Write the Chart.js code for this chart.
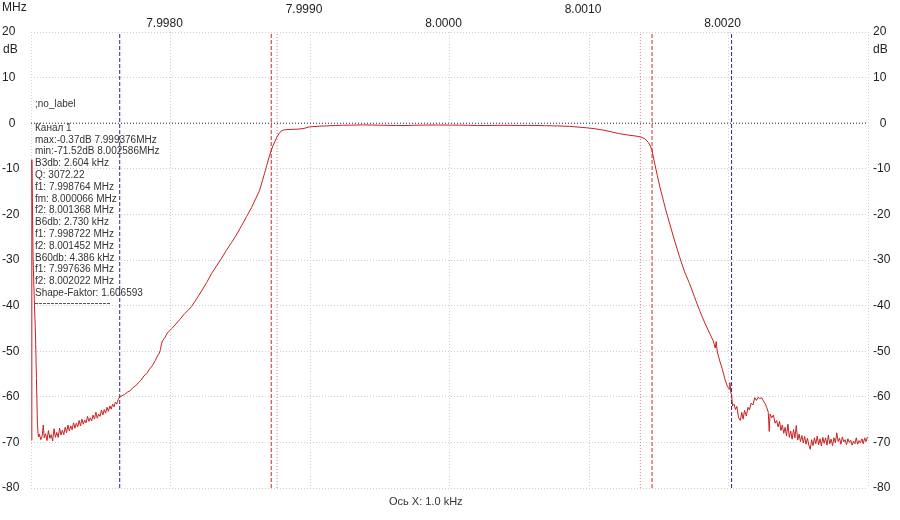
<!DOCTYPE html>
<html>
<head>
<meta charset="utf-8">
<script src="https://cdn.jsdelivr.net/npm/chart.js@4/dist/chart.umd.min.js"></script>
<style>
  html, body { margin: 0; padding: 0; background: #ffffff; }
  #wrap { width: 900px; height: 520px; }
</style>
</head>
<body>
<div id="wrap"><canvas id="c" width="900" height="520"></canvas></div>
<script>
// ---------------- DATA ----------------
const centerMHz = 8.0;                       // x axis values are offsets from this, in kHz
const xTicksKHz = [-3, -2, -1, 0, 1, 2, 3];
const yTicksDb = [-80, -70, -60, -50, -40, -30, -20, -10, 0, 10, 20];

// sweep start artefact + lower noise floor
const floorLowKHz = [-2.996,-2.994,-2.985,-2.975,-2.968,-2.961,-2.954,-2.947,-2.940,-2.930,-2.920,-2.912,-2.905,-2.895,-2.885,-2.875,-2.865,-2.855,-2.845,-2.835,-2.825,-2.815,-2.805,-2.795,-2.785,-2.775,-2.765,-2.755,-2.745,-2.735,-2.725,-2.715,-2.705,-2.695,-2.685,-2.675,-2.665,-2.655,-2.645,-2.635,-2.625,-2.615,-2.605,-2.595,-2.585,-2.575,-2.565,-2.555,-2.545,-2.535,-2.525,-2.515,-2.505,-2.495,-2.485,-2.475,-2.465,-2.455,-2.445,-2.435,-2.425,-2.415,-2.405,-2.395,-2.385,-2.375,-2.364,-2.350];
const floorLowDb  = [-69.5,-8.0,-30.0,-40.0,-46.0,-56.0,-66.0,-68.8,-68.2,-69.4,-68.6,-66.2,-69.0,-68.1,-69.6,-67.4,-69.1,-68.3,-69.7,-67.0,-68.9,-67.8,-68.9,-66.9,-68.4,-67.3,-68.3,-66.7,-67.9,-66.2,-67.5,-66.4,-67.2,-65.7,-66.9,-65.8,-66.6,-65.2,-66.4,-64.9,-66.0,-65.1,-65.7,-64.3,-65.4,-64.6,-65.3,-64.0,-64.9,-63.4,-64.7,-63.8,-64.3,-62.9,-64.0,-62.8,-63.6,-62.3,-63.2,-62.0,-62.7,-61.6,-62.2,-61.2,-61.6,-60.6,-60.0,-59.8];

// lower skirt
const skirtLowKHz = [-2.330,-2.310,-2.290,-2.270,-2.250,-2.230,-2.210,-2.190,-2.170,-2.150,-2.130,-2.110,-2.093,-2.080,-2.072,-2.065,-2.057,-2.040,-2.022,-1.990,-1.960,-1.935,-1.900,-1.870,-1.849,-1.810,-1.778,-1.740,-1.706,-1.670,-1.634,-1.600,-1.563,-1.530,-1.491,-1.455,-1.419,-1.390,-1.362,-1.340,-1.326,-1.310,-1.295,-1.278,-1.265,-1.250,-1.236,-1.220,-1.205,-1.190];
const skirtLowDb  = [-59.5,-59.0,-58.7,-58.0,-57.6,-56.9,-56.3,-55.4,-54.9,-53.9,-53.2,-52.1,-51.0,-50.4,-49.6,-48.4,-47.7,-47.0,-46.0,-45.0,-44.0,-43.1,-41.8,-40.9,-40.2,-38.4,-36.8,-34.9,-33.0,-31.3,-29.6,-27.9,-26.2,-24.6,-22.5,-20.5,-18.5,-16.6,-14.8,-12.5,-11.0,-9.3,-7.6,-6.0,-4.9,-3.9,-3.0,-2.2,-1.7,-1.5];

// passband
const passKHz = [-1.170,-1.130,-1.090,-1.050,-1.010,-0.980,-0.930,-0.880,-0.820,-0.760,-0.700,-0.624,-0.560,-0.500,-0.440,-0.380,-0.320,-0.260,-0.200,-0.140,-0.080,0.000,0.066,0.130,0.200,0.260,0.320,0.380,0.440,0.500,0.560,0.620,0.680,0.740,0.800,0.860,0.920,0.980,1.040,1.100,1.160,1.220,1.280,1.330,1.368,1.400,1.425,1.440,1.452];
const passDb  = [-1.4,-1.35,-1.3,-1.2,-0.85,-0.75,-0.65,-0.6,-0.5,-0.45,-0.42,-0.37,-0.4,-0.43,-0.47,-0.52,-0.5,-0.45,-0.42,-0.4,-0.4,-0.41,-0.42,-0.45,-0.5,-0.52,-0.48,-0.46,-0.47,-0.5,-0.48,-0.5,-0.55,-0.58,-0.62,-0.7,-0.85,-1.0,-1.2,-1.5,-1.9,-2.3,-2.6,-2.8,-3.0,-3.4,-4.2,-5.0,-6.0];

// upper skirt
const skirtHighKHz = [1.470,1.490,1.510,1.527,1.550,1.577,1.610,1.649,1.685,1.720,1.755,1.792,1.830,1.864,1.890,1.905,1.912,1.920,1.940,1.957,1.975,1.993,2.005,2.010,2.015,2.022,2.029];
const skirtHighDb  = [-8.7,-11.5,-14.2,-16.2,-19.0,-21.9,-25.4,-29.3,-32.6,-35.1,-38.0,-41.0,-43.8,-46.0,-47.7,-49.3,-47.9,-50.2,-52.4,-54.1,-56.2,-57.8,-58.3,-56.9,-58.9,-59.6,-62.0];

// upper noise floor
const floorHighKHz = [2.040,2.050,2.060,2.072,2.085,2.095,2.105,2.115,2.128,2.140,2.150,2.162,2.175,2.188,2.200,2.212,2.225,2.238,2.250,2.262,2.275,2.285,2.292,2.298,2.310,2.322,2.334,2.345,2.356,2.366,2.376,2.386,2.396,2.406,2.416,2.426,2.436,2.446,2.456,2.466,2.476,2.486,2.496,2.506,2.516,2.526,2.536,2.546,2.556,2.566,2.576,2.586,2.596,2.606,2.616,2.626,2.636,2.646,2.656,2.666,2.676,2.686,2.696,2.706,2.716,2.726,2.736,2.746,2.756,2.766,2.776,2.786,2.796,2.806,2.816,2.826,2.836,2.846,2.856,2.866,2.876,2.886,2.896,2.906,2.916,2.926,2.936,2.946,2.956,2.966,2.976,2.986,2.996];
const floorHighDb  = [-61.6,-62.8,-62.1,-64.6,-65.2,-63.4,-64.9,-63.0,-64.2,-62.3,-62.9,-61.4,-61.8,-60.2,-60.8,-60.1,-60.4,-60.2,-60.9,-61.5,-62.4,-63.4,-67.6,-63.8,-64.6,-64.0,-65.8,-65.2,-66.6,-65.4,-67.4,-66.2,-68.0,-66.7,-68.6,-66.0,-68.9,-67.5,-69.3,-67.2,-69.0,-66.3,-69.5,-68.2,-69.8,-68.5,-70.1,-68.7,-70.4,-69.1,-70.6,-71.5,-69.4,-70.7,-69.0,-70.3,-68.6,-70.5,-69.2,-70.8,-68.9,-70.2,-69.0,-70.6,-68.4,-70.3,-69.3,-70.7,-69.0,-70.1,-67.9,-69.8,-69.1,-70.4,-68.8,-69.9,-69.4,-70.5,-69.2,-70.0,-69.5,-70.6,-69.7,-70.3,-69.0,-70.4,-69.6,-70.1,-69.2,-70.3,-69.0,-69.8,-68.8];

// marker frequencies (kHz offsets)
const markerB3KHz  = [-1.236, 1.368];
const markerB6KHz  = [-1.278, 1.452];
const markerB60KHz = [-2.364, 2.022];
const refLevelDb = 0;

const infoTitle = ';no_label';
const infoLines = [
  'Канал 1',
  'max:-0.37dB 7.999376MHz',
  'min:-71.52dB 8.002586MHz',
  'B3db: 2.604 kHz',
  'Q: 3072.22',
  'f1: 7.998764 MHz',
  'fm: 8.000066 MHz',
  'f2: 8.001368 MHz',
  'B6db: 2.730 kHz',
  'f1: 7.998722 MHz',
  'f2: 8.001452 MHz',
  'B60db: 4.386 kHz',
  'f1: 7.997636 MHz',
  'f2: 8.002022 MHz',
  'Shape-Faktor: 1.606593'
];
const xAxisNote = 'Ось X: 1.0 kHz';

// ---------------- BUILD ----------------
function pts(xs, ys) { return xs.map((x, i) => ({ x: x, y: ys[i] })); }
const trace = [].concat(
  pts(floorLowKHz, floorLowDb),
  pts(skirtLowKHz, skirtLowDb),
  pts(passKHz, passDb),
  pts(skirtHighKHz, skirtHighDb),
  pts(floorHighKHz, floorHighDb)
);

const Y_MIN = yTicksDb[0], Y_MAX = yTicksDb[yTicksDb.length - 1];
function vline(k, color, dash, order) {
  return { data: [{ x: k, y: Y_MIN }, { x: k, y: Y_MAX }], borderColor: color, borderWidth: 1,
           borderDash: dash, pointRadius: 0, fill: false, order: order };
}
const datasets = [
  { data: trace, borderColor: '#c82020', borderWidth: 1, pointRadius: 0, fill: false, tension: 0, order: 0 },
  { data: [{ x: xTicksKHz[0], y: refLevelDb }, { x: xTicksKHz[xTicksKHz.length - 1], y: refLevelDb }],
    borderColor: '#2a2a55', borderWidth: 1, borderDash: [1, 2], pointRadius: 0, fill: false, order: 1 }
];
markerB3KHz.forEach(k => datasets.push(vline(k, '#e07a7a', [1, 2], 2)));
markerB6KHz.forEach(k => datasets.push(vline(k, '#d02828', [4, 2], 2)));
markerB60KHz.forEach(k => datasets.push(vline(k, '#2a2a78', [4, 2], 2)));

const FONT = "'Liberation Sans', Arial, sans-serif";
const gridCfg = { color: '#cfcfcf', lineWidth: 1, drawTicks: false, borderDash: [1, 2] };

const textPlugin = {
  id: 'texts',
  afterDraw(chart) {
    const ctx = chart.ctx;
    ctx.save();
    ctx.fillStyle = '#222';
    ctx.textBaseline = 'middle';
    ctx.textAlign = 'left';
    ctx.font = '12px ' + FONT;
    ctx.fillText('MHz', 2, 8);
    ctx.fillText('dB', 3, 50);
    ctx.fillText('dB', 873, 50);
    ctx.font = '10px ' + FONT;
    ctx.fillStyle = '#333';
    ctx.fillText(infoTitle, 35, 104);
    infoLines.forEach((t, i) => ctx.fillText(t, 35, 128 + i * 11.8));
    ctx.strokeStyle = '#555';
    ctx.lineWidth = 1;
    ctx.setLineDash([3, 1]);
    ctx.beginPath();
    ctx.moveTo(35, 303.5); ctx.lineTo(111, 303.5);
    ctx.stroke();
    ctx.setLineDash([]);
    ctx.font = '11px ' + FONT;
    ctx.fillStyle = '#333';
    ctx.fillText(xAxisNote, 389, 502);
    ctx.restore();
  }
};

new Chart(document.getElementById('c'), {
  type: 'line',
  data: { datasets: datasets },
  options: {
    responsive: false,
    animation: false,
    devicePixelRatio: 1,
    layout: { padding: { left: 2, right: 0, top: 0, bottom: 32 } },
    plugins: { legend: { display: false }, tooltip: { enabled: false } },
    elements: { line: { tension: 0 } },
    scales: {
      x: {
        type: 'linear', position: 'top',
        min: xTicksKHz[0], max: xTicksKHz[xTicksKHz.length - 1],
        afterBuildTicks: axis => { axis.ticks = xTicksKHz.map(v => ({ value: v })); },
        ticks: {
          padding: 1, labelOffset: -6, color: '#222', font: { size: 12, family: FONT },
          maxRotation: 0, autoSkip: false,
          callback: v => {
            if (v === xTicksKHz[0] || v === xTicksKHz[xTicksKHz.length - 1]) return '';
            const lbl = (centerMHz + v / 1000).toFixed(4);
            return (Math.abs(v) % 2 === 1) ? [lbl, ''] : ['', lbl];
          }
        },
        grid: gridCfg,
        border: { display: false, dash: [1, 2] },
        afterFit: s => { s.height = 32; }
      },
      y: {
        position: 'left', min: Y_MIN, max: Y_MAX,
        afterBuildTicks: axis => { axis.ticks = yTicksDb.map(v => ({ value: v })); },
        ticks: { crossAlign: 'far', padding: 0, color: '#222', font: { size: 12, family: FONT },
                 callback: v => (v === 0 ? '  0' : String(v)) },
        grid: gridCfg,
        border: { display: false, dash: [1, 2] },
        afterFit: s => { s.width = 29; }
      },
      y2: {
        position: 'right', min: Y_MIN, max: Y_MAX,
        afterBuildTicks: axis => { axis.ticks = yTicksDb.map(v => ({ value: v })); },
        ticks: { crossAlign: 'near', padding: 5, color: '#222', font: { size: 12, family: FONT },
                 callback: v => (v === 0 ? '  0' : String(v)) },
        grid: { display: false, drawTicks: false },
        border: { display: false },
        afterFit: s => { s.width = 32; }
      }
    }
  },
  plugins: [textPlugin]
});
</script>
</body>
</html>
